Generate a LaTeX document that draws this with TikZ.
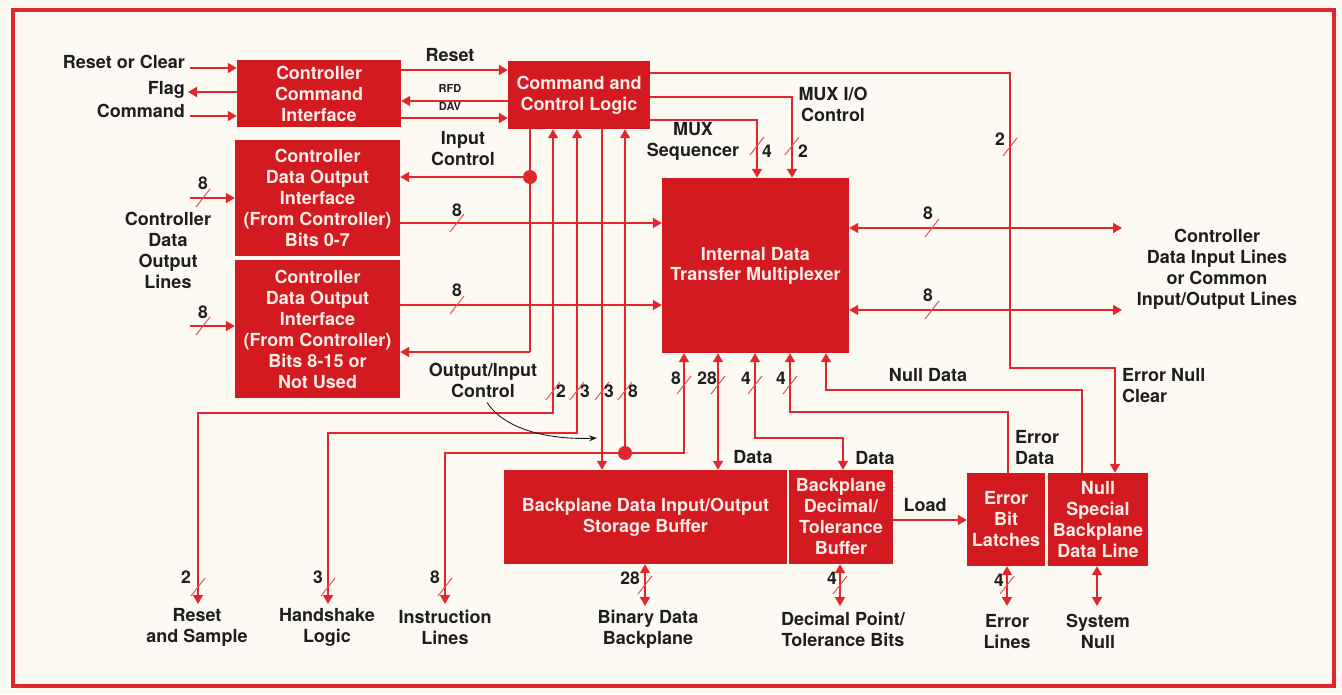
\documentclass[tikz,border=0pt]{standalone}
\usepackage{fontspec}
\setmainfont{TeX Gyre Heros}
\usetikzlibrary{arrows.meta,calc}
\definecolor{boxred}{HTML}{D31A20}
\definecolor{linered}{HTML}{E2262E}
\definecolor{paper}{HTML}{FCFAF3}
\definecolor{boxtxt}{HTML}{FCEDE6}
\definecolor{ink}{HTML}{1E1E1E}
\newcommand\slm[1]{\draw[sl] ($(#1)+(-7,9)$) -- ($(#1)+(7,-9)$);}
\tikzset{
  box/.style={fill=boxred, text=boxtxt, align=center, inner sep=0pt,
    font=\fontsize{18}{21}\selectfont\bfseries},
  lbl/.style={text=ink, align=center, inner sep=0pt,
    font=\fontsize{18}{21}\selectfont\bfseries},
  smalllbl/.style={text=ink, inner sep=0pt, font=\fontsize{11}{13}\selectfont\bfseries},
  num/.style={text=ink, inner sep=0pt, font=\fontsize{17.5}{20}\selectfont\bfseries},
  ln/.style={draw=linered, line width=1.6pt},
  arr/.style={ln, -{Triangle[length=9pt,width=10pt]}},
  barr/.style={ln, {Triangle[length=9pt,width=10pt]}-{Triangle[length=9pt,width=10pt]}},
  sl/.style={draw=linered!80, line width=1pt},
  curvearr/.style={draw=ink, line width=0.9pt, -{Stealth[length=8pt,width=6pt]}}
}
\begin{document}
\begin{tikzpicture}[x=1pt,y=-1pt]
\fill[paper] (0,0) rectangle (1342,694);
\useasboundingbox (0,0) rectangle (1342,694);
\draw[linered, line width=3.5pt] (13,10) rectangle (1334,686);

% boxes
\node[box, minimum width=164, minimum height=67] (cci) at (319,93.5) {Controller\\Command\\Interface};
\node[box, minimum width=142, minimum height=68] (ccl) at (579,95) {Command and\\Control Logic};
\node[box, minimum width=165, minimum height=116] (do1) at (317.5,198) {Controller\\Data Output\\Interface\\(From Controller)\\Bits 0-7};
\node[box, minimum width=165, minimum height=138] (do2) at (317.5,329) {Controller\\Data Output\\Interface\\(From Controller)\\Bits 8-15 or\\Not Used};
\node[box, minimum width=187, minimum height=175, font=\fontsize{18}{20}\selectfont\bfseries] (mux) at (755.5,265.5) {Internal Data\\Transfer Multiplexer};
\node[box, minimum width=283, minimum height=94] (bdio) at (645.5,517) {Backplane Data Input/Output\\Storage Buffer};
\node[box, minimum width=104, minimum height=94] (bdec) at (841,517) {Backplane\\Decimal/\\Tolerance\\Buffer};
\node[box, minimum width=78, minimum height=93] (ebl) at (1006,519.5) {Error\\Bit\\Latches};
\node[box, minimum width=100, minimum height=93] (nsb) at (1098,519.5) {Null\\Special\\Backplane\\Data Line};

% labels
\node[lbl, anchor=east] (lrc) at (185,62) {Reset or Clear};
\node[lbl, anchor=east] (lflag) at (185,90) {Flag};
\node[lbl, anchor=east] (lcmd) at (185,111) {Command};
\node[lbl] (lreset) at (450,55) {Reset};
\node[smalllbl] (lrfd) at (450,88) {RFD};
\node[smalllbl] (ldav) at (450,106) {DAV};
\node[lbl] (linc) at (463,149) {Input\\Control};
\node[lbl] (lmuxs) at (693,141) {MUX\\Sequencer};
\node[lbl] (lmuxio) at (833,104) {MUX I/O\\Control};
\node[lbl] (lcdo) at (168,250) {Controller\\Data\\Output\\Lines};
\node[lbl] (lcdi) at (1217,269) {Controller\\Data Input Lines\\or Common\\Input/Output Lines};
\node[lbl] (loic) at (483,380) {Output/Input\\Control};
\node[lbl] (lnull) at (928,375) {Null Data};
\node[lbl, align=left, anchor=west] (lenc) at (1122,386) {Error Null\\Clear};
\node[lbl, align=left, anchor=west] (led) at (1015,448) {Error\\Data};
\node[lbl] (ldata1) at (753,457) {Data};
\node[lbl] (ldata2) at (875,458) {Data};
\node[lbl] (lload) at (925,505) {Load};
\node[lbl] (lrs) at (197,627) {Reset\\and Sample};
\node[lbl] (lhs) at (327,627) {Handshake\\Logic};
\node[lbl] (lil) at (445,627) {Instruction\\Lines};
\node[lbl] (lbdb) at (648,629.5) {Binary Data\\Backplane};
\node[lbl] (ldpt) at (843,629.5) {Decimal Point/\\Tolerance Bits};
\node[lbl] (lel) at (1007,631.5) {Error\\Lines};
\node[lbl] (lsn) at (1098,631.5) {System\\Null};

% top-left connectors
\draw[arr] (190,68) -- (cci.west |- 0,68);
\draw[arr] (cci.west |- 0,92) -- (188,92);
\draw[arr] (190,116) -- (cci.west |- 0,116);
\draw[arr] (cci.east |- 0,70) -- (ccl.west |- 0,70);
\draw[arr] (ccl.west |- 0,101) -- (cci.east |- 0,101);
\draw[arr] (cci.east |- 0,118) -- (ccl.west |- 0,118);

% CCL right side
\draw[arr] (ccl.east |- 0,73) -- (1010,73) -- (1010,368) -- (1115,368) -- (nsb.north -| 1115,0);
\draw[arr] (ccl.east |- 0,97) -- (792,97) -- (mux.north -| 792,0);
\draw[arr] (ccl.east |- 0,120) -- (757,120) -- (mux.north -| 757,0);

% line A (input / output-input control)
\coordinate (dA) at (530,177);
\draw[ln] (ccl.south -| 530,0) -- (530,352);
\draw[arr] (530,352) -- (do2.east |- 0,352);
\draw[arr] (dA) -- (do1.east |- dA);
\fill[linered] (dA) circle[radius=7pt];

% data output to mux
\draw[arr] (do1.east |- 0,223) -- (mux.west |- 0,223);
\draw[arr] (do2.east |- 0,305) -- (mux.west |- 0,305);
\draw[arr] (190,198) -- (do1.west |- 0,198);
\draw[arr] (190,326) -- (do2.west |- 0,326);

% lines below CCL
\draw[barr] (ccl.south -| 553,0) -- (553,413) -- (198,413) -- (198,604);
\draw[barr] (ccl.south -| 577,0) -- (577,433) -- (328,433) -- (328,604);
\draw[arr] (ccl.south -| 602,0) -- (bdio.north -| 602,0);
\coordinate (dE) at (625,453);
\draw[arr] (dE) -- (ccl.south -| dE);
\draw[arr] (dE) -- (445,453) -- (445,604);
\draw[arr] (dE) -- (684,453) -- (mux.south -| 684,0);
\fill[linered] (dE) circle[radius=7pt];

% mux bottom
\draw[barr] (mux.south -| 718,0) -- (bdio.north -| 718,0);
\draw[barr] (mux.south -| 755,0) -- (755,438) -- (843,438) -- (bdec.north -| 843,0);
\draw[arr] (ebl.north -| 1008,0) -- (1008,412) -- (790,412) -- (mux.south -| 790,0);
\draw[arr] (nsb.north -| 1082,0) -- (1082,390) -- (826,390) -- (mux.south -| 826,0);
\draw[arr] (bdec.east |- 0,520) -- (ebl.west |- 0,520);

% mux right
\draw[barr] (mux.east |- 0,228) -- (1122,228);
\draw[barr] (mux.east |- 0,310) -- (1122,310);

% bottom bidirectional
\draw[barr] (bdio.south -| 645,0) -- (645,606);
\draw[barr] (bdec.south -| 840,0) -- (840,606);
\draw[barr] (ebl.south -| 1007,0) -- (1007,606);
\draw[barr] (nsb.south -| 1097,0) -- (1097,606);

% curved pointer
\draw[curvearr] (loic.south) ++(4,5) .. controls (505,430) and (550,440) .. (597,438);

% bus slashes and counts
\slm{1010,147} \node[num] (n1) at (1000,139) {2};
\slm{792,146}  \node[num] (n2) at (803,151) {2};
\slm{757,146}  \node[num] (n3) at (767,151) {4};
\slm{457,223}  \node[num] (n4) at (457,210) {8};
\slm{457,305}  \node[num] (n5) at (457,290) {8};
\slm{203,198}  \node[num] (n6) at (203,183) {8};
\slm{203,326}  \node[num] (n7) at (203,312) {8};
\slm{932,228}  \node[num] (n8) at (928,213) {8};
\slm{932,310}  \node[num] (n9) at (928,295) {8};
\slm{553,391}  \node[num] (n10) at (561,391) {2};
\slm{577,391}  \node[num] (n11) at (585,391) {3};
\slm{602,391}  \node[num] (n12) at (609,391) {3};
\slm{625,391}  \node[num] (n13) at (633,391) {8};
\slm{684,385}  \node[num] (n14) at (676,378) {8};
\slm{718,385}  \node[num] (n15) at (707,378) {28};
\slm{755,385}  \node[num] (n16) at (746,378) {4};
\slm{790,385}  \node[num] (n17) at (781,378) {4};
\slm{198,587}  \node[num] (n18) at (186,577) {2};
\slm{328,587}  \node[num] (n19) at (318,577) {3};
\slm{445,587}  \node[num] (n20) at (435,577) {8};
\slm{645,585}  \node[num] (n21) at (630,578) {28};
\slm{840,585}  \node[num] (n22) at (832,578) {4};
\slm{1007,585} \node[num] (n23) at (999,580) {4};
\end{tikzpicture}
\end{document}
